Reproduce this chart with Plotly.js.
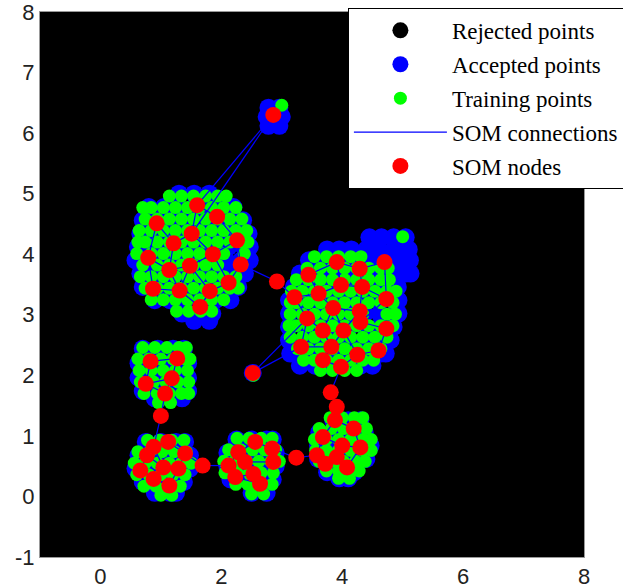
<!DOCTYPE html>
<html>
<head>
<meta charset="utf-8">
<script src="https://cdn.plot.ly/plotly-3.0.1.min.js"></script>
<style>html,body{margin:0;padding:0;background:#fff;}#chart{width:623px;height:588px;}</style>
</head>
<body>
<div id="chart"></div>
<script>
// ---- SOM nodes (red) ----
const nodeX = [2.86,
  1.60,0.93,1.93,1.51,1.21,2.26,0.79,1.86,1.48,1.14,2.32,2.12,0.87,1.31,1.81,1.65,
  2.92,
  3.91,4.70,4.29,3.44,3.98,4.33,3.61,3.21,4.73,3.85,4.29,3.42,4.30,3.68,4.02,4.73,3.32,3.82,4.25,4.60,3.68,3.98,
  2.52,
  0.83,1.27,0.75,1.18,1.07,
  1.00,
  0.88,1.12,0.77,1.40,0.66,1.04,1.29,0.88,1.14,
  1.69,
  2.56,2.28,2.84,2.12,2.39,2.86,2.23,2.53,2.64,
  3.24,
  3.81,3.91,3.88,4.19,3.68,4.00,4.30,3.58,3.91,3.72,4.08];
const nodeY = [6.30,
  4.81,4.51,4.62,4.34,4.18,4.23,3.94,4.00,3.81,3.74,3.83,3.53,3.43,3.40,3.39,3.13,
  3.55,
  3.87,3.87,3.76,3.66,3.49,3.46,3.35,3.29,3.26,3.11,3.06,2.94,2.88,2.74,2.74,2.77,2.47,2.47,2.34,2.41,2.25,2.14,
  2.04,
  2.23,2.28,1.86,1.95,1.70,
  1.33,
  0.82,0.90,0.68,0.71,0.43,0.48,0.46,0.29,0.18,
  0.51,
  0.90,0.73,0.79,0.51,0.57,0.57,0.32,0.37,0.21,
  0.64,
  1.72,1.48,1.26,1.12,0.98,0.84,0.81,0.68,0.65,0.54,0.48];

// ---- SOM connections: pairs of node indices ----
const edgeFrom = [0,0, 1,1,2,4,4,3,6,6,8,9,5,2,7,7,10,9,9,8,11,12,14,15,13,
  11,17, 18,19,18,18,20,19,21,22,22,23,24,24,27,23,26,25,29,27,27,28,30,31,32,34,29,35,36,32,38,36,33,28,
  40,40, 41,41,42,43,44,43, 45,46, 47,47,48,49,49,52,50,51,52,54,53,47,
  50,56, 57,57,58,58,61,60,63,64,59,61,63, 59,66, 67,67,68,69,69,70,71,72,71,72,74,75,75,73];
const edgeTo = [1,4, 3,4,5,5,8,6,8,11,9,10,10,7,10,13,14,14,15,12,12,15,16,16,14,
  17,25, 20,20,21,22,23,26,24,24,23,26,25,27,28,28,30,29,31,31,32,32,33,35,35,35,34,38,37,36,39,39,37,30,
  34,29, 42,43,44,44,45,45, 46,47, 48,49,50,51,52,53,53,54,54,55,55,52,
  56,60, 58,59,60,61,64,63,64,65,62,62,65, 66,74, 39,68,69,70,71,73,72,73,74,75,76,76,77,77];

// ---- Training points (green): rows of [y, x1, x2, ...] ----
const trainRows = [
  [6.46, 3.00],
  [4.96, 1.14,1.34,1.54,1.74,1.94,2.08],
  [4.77, 0.70,0.84,1.04,1.24,1.44,1.64,1.84,2.04,2.24],
  [4.58, 0.74,0.94,1.14,1.34,1.54,1.74,1.94,2.14,2.34],
  [4.39, 0.64,0.84,1.04,1.24,1.44,1.64,1.84,2.04,2.24,2.42],
  [4.20, 0.62,0.74,0.94,1.14,1.34,1.54,1.74,1.94,2.14,2.34,2.44],
  [4.01, 0.60,0.84,1.04,1.24,1.44,1.64,1.84,2.04,2.38],
  [3.82, 0.70,0.94,1.14,1.34,1.54,1.74,1.94,2.34],
  [3.63, 0.66,0.84,1.04,1.24,1.44,1.64,1.84,2.04,2.24],
  [3.44, 0.74,0.94,1.14,1.34,1.54,1.74,1.94,2.14,2.28],
  [3.25, 0.84,1.04,1.24,1.44,1.64,1.84,2.04],
  [3.06, 1.26,1.46,1.66,1.84],
  [4.29, 5.00],
  [3.96, 3.54,3.74,3.94,4.14,4.31],
  [3.77, 3.42,3.64,3.84,4.04,4.24,4.44,4.64,4.76],
  [3.58, 3.24,3.44,3.64,3.84,4.04,4.24,4.44,4.64,4.78],
  [3.39, 3.16,3.34,3.54,3.74,3.94,4.14,4.34,4.54,4.74,4.89],
  [3.20, 3.14,3.24,3.44,3.64,3.84,4.04,4.24,4.44,4.64,4.84],
  [3.01, 3.14,3.34,3.54,3.74,3.94,4.14,4.34,4.74,4.88],
  [2.82, 3.12,3.24,3.44,3.64,3.84,4.04,4.24,4.44,4.64,4.84],
  [2.63, 3.14,3.34,3.54,3.74,3.94,4.14,4.34,4.54,4.74],
  [2.44, 3.26,3.44,3.64,3.84,4.04,4.24,4.44,4.64],
  [2.25, 3.36,3.54,3.74,3.94,4.14,4.34,4.52],
  [2.08, 3.64,3.84,4.04,4.24],
  [2.00, 2.53],
  [2.46, 0.70,0.90,1.10,1.30,1.42],
  [2.27, 0.62,0.80,1.00,1.20,1.40,1.48],
  [2.08, 0.64,0.84,1.04,1.24,1.44],
  [1.89, 0.66,0.88,1.08,1.28,1.46],
  [1.70, 0.72,0.94,1.14,1.34,1.46],
  [1.55, 0.96,1.16],
  [0.93, 0.78,0.98,1.18,1.38],
  [0.74, 0.62,0.82,1.02,1.22,1.42],
  [0.55, 0.56,0.74,0.94,1.14,1.34,1.50],
  [0.36, 0.60,0.80,1.00,1.20,1.40],
  [0.17, 0.72,0.92,1.12,1.32],
  [0.02, 1.00,1.18],
  [0.96, 2.26,2.46,2.66,2.84],
  [0.77, 2.12,2.32,2.52,2.72,2.90],
  [0.58, 2.04,2.22,2.42,2.62,2.82,2.96],
  [0.39, 2.06,2.26,2.46,2.66,2.86],
  [0.20, 2.24,2.44,2.64,2.84],
  [0.04, 2.50,2.70],
  [1.30, 3.80,4.00,4.20,4.34],
  [1.12, 3.62,3.82,4.02,4.22,4.40],
  [0.94, 3.54,3.74,3.94,4.14,4.34,4.48],
  [0.76, 3.56,3.74,3.94,4.14,4.34,4.48],
  [0.58, 3.62,3.82,4.02,4.22,4.38],
  [0.42, 3.74,3.94,4.14,4.28],
  [0.30, 3.94,4.12]
];

// ---- Accepted points (blue): rows of [y, x1, x2, ...] ----
const acceptRows = [
  [6.42, 2.78,2.96], [6.27, 2.75,2.87,3.00], [6.12, 2.78,2.96],
  [5.00, 1.30,1.55,1.80],
  [4.78, 0.80,1.05,1.30,1.55,1.80,2.05,2.20],
  [4.56, 0.70,0.95,1.20,1.45,1.70,1.95,2.20,2.36],
  [4.34, 0.66,0.90,1.15,1.40,1.65,1.90,2.15,2.45],
  [4.12, 0.62,0.87,1.12,1.37,1.62,1.87,2.12,2.37,2.47],
  [3.90, 0.58,0.83,1.08,1.33,1.58,1.83,2.08,2.33,2.47],
  [3.68, 0.66,0.90,1.15,1.40,1.65,1.90,2.15,2.39],
  [3.46, 0.70,0.95,1.20,1.45,1.70,1.95,2.20,2.28],
  [3.24, 0.90,1.15,1.40,1.65,1.90,2.15],
  [3.02, 1.35,1.60,1.85],
  [2.90, 1.55,1.80],
  [4.28, 4.45,4.65,4.85,5.05],
  [4.08, 3.75,3.95,4.15,4.40,4.60,4.85,5.10],
  [3.90, 3.45,3.70,3.95,4.20,4.45,4.70,4.95,5.12],
  [3.68, 3.30,3.55,3.80,4.05,4.30,4.55,4.80,5.05,5.13],
  [3.46, 3.20,3.45,3.70,3.95,4.20,4.45,4.70,4.92],
  [3.24, 3.12,3.37,3.62,3.87,4.12,4.37,4.62,4.87,4.93],
  [3.02, 3.12,3.37,3.62,3.87,4.12,4.37,4.62,4.87,4.93],
  [2.80, 3.12,3.37,3.62,3.87,4.12,4.37,4.62,4.85],
  [2.58, 3.12,3.37,3.62,3.87,4.12,4.37,4.62,4.80],
  [2.36, 3.14,3.39,3.64,3.89,4.14,4.39,4.64,4.72],
  [2.16, 3.30,3.55,3.80,4.05,4.30,4.50],
  [2.04, 2.52],
  [2.44, 0.70,0.95,1.20,1.38],
  [2.20, 0.63,0.88,1.13,1.38,1.45],
  [1.96, 0.63,0.88,1.13,1.38,1.45],
  [1.74, 0.70,0.95,1.20,1.45],
  [1.62, 0.90,1.15,1.35],
  [0.90, 0.75,1.00,1.25,1.40],
  [0.68, 0.63,0.88,1.13,1.38,1.48],
  [0.46, 0.58,0.83,1.08,1.33,1.48],
  [0.24, 0.70,0.95,1.20,1.38],
  [0.06, 0.90,1.15,1.25],
  [0.94, 2.25,2.50,2.75,2.85],
  [0.72, 2.10,2.35,2.60,2.85,2.90],
  [0.50, 2.10,2.35,2.60,2.85,2.90],
  [0.28, 2.15,2.40,2.65,2.85],
  [0.06, 2.50,2.75],
  [1.26, 3.85,4.10,4.30],
  [1.06, 3.62,3.87,4.12,4.37],
  [0.84, 3.60,3.85,4.10,4.35,4.47],
  [0.62, 3.60,3.85,4.10,4.35,4.40],
  [0.40, 3.75,4.00,4.20],
  [0.30, 3.95,4.10]
];

// ---- Rejected points (black, on black background) ----
const rejectX = [-0.5, 0.0, 6.0, 7.0, 5.5, 3.0, -0.5, 6.5];
const rejectY = [7.5, 5.5, 1.0, -0.5, 5.0, 1.5, -0.5, 3.0];

const legendNames = ['Rejected points','Accepted points','Training points','SOM connections','SOM nodes'];
const xTicks = [0,2,4,6,8];
const xTickText = ['0','2','4','6','8'];
const yTicks = [-1,0,1,2,3,4,5,6,7,8];
const yTickText = ['-1','0','1','2','3','4','5','6','7','8'];

function unrow(rows){ const xs=[], ys=[]; rows.forEach(r=>{ for(let i=1;i<r.length;i++){ xs.push(r[i]); ys.push(r[0]); } }); return [xs, ys]; }
const [trainX, trainY] = unrow(trainRows);
const [accX, accY] = unrow(acceptRows);
const lineX = [], lineY = [];
for (let i=0;i<edgeFrom.length;i++){
  lineX.push(nodeX[edgeFrom[i]], nodeX[edgeTo[i]], null);
  lineY.push(nodeY[edgeFrom[i]], nodeY[edgeTo[i]], null);
}

const traces = [
  {type:'scatter', mode:'markers', name:legendNames[0], legendgroup:'g0', x:rejectX, y:rejectY,
   marker:{color:'#000000', size:16, line:{width:0}}},
  {type:'scatter', mode:'markers', name:legendNames[1], legendgroup:'g1', x:accX, y:accY,
   marker:{color:'#0000ff', size:18, line:{width:0}}},
  {type:'scatter', mode:'markers', name:legendNames[2], legendgroup:'g2', x:trainX, y:trainY,
   marker:{color:'#00ff00', size:13, line:{width:0}}},
  {type:'scatter', mode:'lines', name:legendNames[3], legendgroup:'g3', x:lineX, y:lineY,
   line:{color:'#0000ff', width:1.2}, connectgaps:false},
  {type:'scatter', mode:'markers', name:legendNames[4], legendgroup:'g4', x:nodeX, y:nodeY,
   marker:{color:'#ff0000', size:16, line:{width:0}}}
];

const tickFont = {family:'Liberation Sans, Arial, sans-serif', size:22, color:'#222'};
const layout = {
  width:623, height:588,
  margin:{l:40, r:39, t:12, b:31, pad:0, autoexpand:false},
  paper_bgcolor:'#ffffff', plot_bgcolor:'#000000',
  showlegend:true,
  legend:{x:0.566, y:1.0075, xanchor:'left', yanchor:'top',
    bgcolor:'#ffffff', bordercolor:'#000000', borderwidth:1,
    font:{family:'Liberation Serif, Times New Roman, serif', size:23, color:'#000'},
    itemwidth:93, itemsizing:'trace', traceorder:'grouped', tracegroupgap:1},
  xaxis:{range:[-1,8], tickvals:xTicks, ticktext:xTickText,
    showgrid:false, zeroline:false, showline:true, mirror:true, linecolor:'#999', linewidth:1,
    ticks:'', tickfont:tickFont, ticklabeloverflow:'allow', fixedrange:true},
  yaxis:{range:[-1,8], tickvals:yTicks, ticktext:yTickText,
    showgrid:false, zeroline:false, showline:true, mirror:true, linecolor:'#999', linewidth:1,
    ticks:'', tickfont:tickFont, ticklabeloverflow:'allow', fixedrange:true}
};
Plotly.newPlot('chart', traces, layout, {staticPlot:true, displayModeBar:false});
</script>
</body>
</html>
